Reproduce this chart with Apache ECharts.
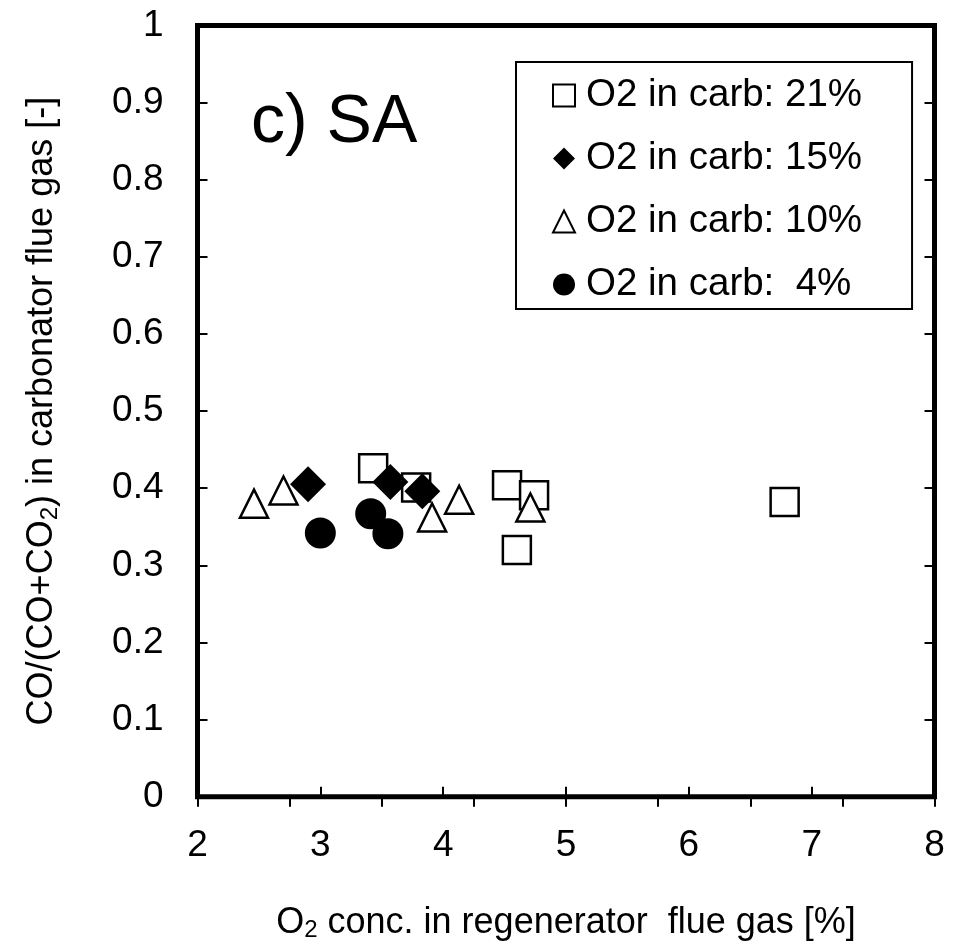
<!DOCTYPE html>
<html>
<head>
<meta charset="utf-8">
<script src="https://cdn.jsdelivr.net/npm/echarts@6/dist/echarts.min.js"></script>
<style>
  html, body { margin: 0; padding: 0; background: #fff; }
  #c1 { width: 956px; height: 948px; }
</style>
</head>
<body>
<div id="c1"></div>
<script>
var chart = echarts.init(document.getElementById('c1'));

// series names (legend)
var seriesNames = ['O2 in carb: 21%', 'O2 in carb: 15%', 'O2 in carb: 10%', 'O2 in carb:  4%'];

// O2 conc. in regenerator flue gas [%] , CO/(CO+CO2) [-]
var carb21 = [[3.43, 0.426], [3.78, 0.401], [4.52, 0.404], [4.74, 0.391], [4.60, 0.320], [6.78, 0.382]];
var carb15 = [[2.90, 0.405], [3.57, 0.408], [3.83, 0.396]];
var carb10 = [[2.46, 0.380], [2.70, 0.397], [3.91, 0.362], [4.13, 0.385], [4.71, 0.375]];
var carb4  = [[3.00, 0.342], [3.41, 0.367], [3.55, 0.341]];

var fontFam = 'Liberation Sans, Arial, sans-serif';

var openStyle = { color: '#fff', borderColor: '#000', borderWidth: 2.5, opacity: 1 };
var fillStyle = { color: '#000', borderColor: '#000', borderWidth: 0, opacity: 1 };

var option = {
   animation: false,
   backgroundColor: '#fff',
   textStyle: { fontFamily: fontFam, color: '#000' },
   title: {
      text: 'c) SA',
      left: 246,
      top: 84,
      textStyle: { fontFamily: fontFam, fontSize: 68, fontWeight: 'normal', color: '#000' }
   },
   grid: {
      left: 197.5, right: 21.5, top: 25.5, bottom: 151.3,
      show: true,
      borderColor: '#000',
      borderWidth: 5,
      backgroundColor: 'transparent'
   },
   legend: {
      orient: 'vertical',
      left: 516,
      top: 62,
      padding: [13, 50, 4, 36],
      itemGap: 22,
      itemWidth: 22,
      itemHeight: 22,
      borderColor: '#000',
      borderWidth: 2,
      backgroundColor: '#fff',
      textStyle: { fontFamily: fontFam, fontSize: 38.5, color: '#000', lineHeight: 41, padding: [0, 0, 0, 6] },
      data: [
         { name: seriesNames[0], icon: 'rect', itemStyle: { color: '#fff', borderColor: '#000', borderWidth: 2, opacity: 1 } },
         { name: seriesNames[1], icon: 'diamond', itemStyle: fillStyle },
         { name: seriesNames[2], icon: 'triangle', itemStyle: { color: '#fff', borderColor: '#000', borderWidth: 2, opacity: 1 } },
         { name: seriesNames[3], icon: 'circle', itemStyle: fillStyle }
      ]
   },
   xAxis: [{
      type: 'value',
      min: 2, max: 8, interval: 1,
      position: 'bottom',
      name: '{a|O}{s|2}{a| conc. in regenerator  flue gas [%]}',
      nameLocation: 'middle',
      nameGap: 104,
      nameTextStyle: {
         rich: {
            a: { fontFamily: fontFam, fontSize: 36, color: '#000', lineHeight: 44 },
            s: { fontFamily: fontFam, fontSize: 24, color: '#000', lineHeight: 44, padding: [16, 0, 0, 0] }
         }
      },
      axisLine: { show: false },
      axisTick: { show: true, inside: true, length: 10, lineStyle: { color: '#000', width: 2 } },
      axisLabel: { fontFamily: fontFam, fontSize: 37, color: '#000', margin: 31 },
      splitLine: { show: false }
   }, {
      type: 'value',
      min: 0, max: 8, interval: 1,
      position: 'top',
      axisLine: { show: false },
      axisTick: { show: true, inside: true, length: 10, lineStyle: { color: '#000', width: 2 } },
      axisLabel: { show: false },
      splitLine: { show: false }
   }],
   yAxis: [{
      type: 'value',
      min: 0, max: 1, interval: 0.1,
      position: 'left',
      name: '{a|CO/(CO+CO}{s|2}{a|) in carbonator flue gas [-]}',
      nameLocation: 'middle',
      nameGap: 133,
      nameRotate: 90,
      nameTextStyle: {
         rich: {
            a: { fontFamily: fontFam, fontSize: 36, color: '#000', lineHeight: 44 },
            s: { fontFamily: fontFam, fontSize: 24, color: '#000', lineHeight: 44, padding: [16, 0, 0, 0] }
         }
      },
      axisLine: { show: false },
      axisTick: { show: true, inside: true, length: 10, lineStyle: { color: '#000', width: 2 } },
      axisLabel: { fontFamily: fontFam, fontSize: 37, color: '#000', margin: 34 },
      splitLine: { show: false }
   }, {
      type: 'value',
      min: 0, max: 1, interval: 0.1,
      position: 'right',
      axisLine: { show: false },
      axisTick: { show: true, inside: true, length: 10, lineStyle: { color: '#000', width: 2 } },
      axisLabel: { show: false },
      splitLine: { show: false }
   }],
   series: [{
      name: seriesNames[0], type: 'scatter', symbol: 'rect', symbolSize: 28,
      itemStyle: openStyle, data: carb21, z: 2
   }, {
      name: seriesNames[1], type: 'scatter', symbol: 'diamond', symbolSize: 36,
      itemStyle: fillStyle, data: carb15, z: 3
   }, {
      name: seriesNames[2], type: 'scatter', symbol: 'triangle', symbolSize: 28,
      itemStyle: openStyle, data: carb10, z: 4
   }, {
      name: seriesNames[3], type: 'scatter', symbol: 'circle', symbolSize: 31,
      itemStyle: fillStyle, data: carb4, z: 5
   }]
};
chart.setOption(option);
</script>
</body>
</html>
